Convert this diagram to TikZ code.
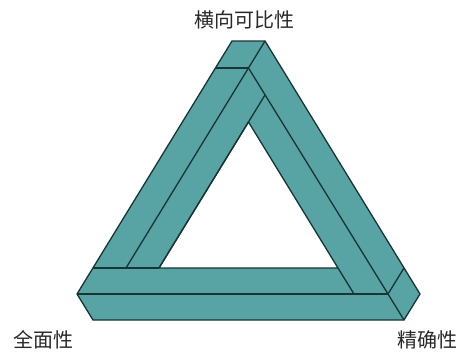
\documentclass[tikz,border=0pt]{standalone}
\usepackage{fontspec}
\newfontfamily\cjk{Noto Sans CJK SC}
\definecolor{barfill}{RGB}{88,163,163}
\definecolor{barline}{RGB}{24,52,52}
\definecolor{labeltext}{RGB}{40,40,40}
\tikzset{
	bar edge/.style={draw=barline, line width=1.3pt, line join=round},
	corner label/.style={font=\cjk\fontsize{20}{24}\selectfont, text=labeltext, inner sep=0pt},
}
\begin{document}
\begin{tikzpicture}[x=1pt, y=-1pt]
	\useasboundingbox (0,0) rectangle (460,351);

	% outline of the three bars
	\coordinate (A) at (232,41);
	\coordinate (B) at (265,41);
	\coordinate (C) at (420,294);
	\coordinate (D) at (404,320);
	\coordinate (E) at (93,320);
	\coordinate (F) at (77,294);
	% hole in the middle
	\coordinate (i1) at (248.5,122);
	\coordinate (i2) at (338,268);
	\coordinate (i3) at (159,268);
	% face joints
	\coordinate (t1) at (215.5,68);
	\coordinate (t2) at (248.5,68);
	\coordinate (t3) at (265,95);
	\coordinate (l1) at (93,268);
	\coordinate (l2) at (126,268);
	\coordinate (r1) at (354,294);
	\coordinate (r2) at (388,294);
	\coordinate (r3) at (404,268);

	\fill[barfill, even odd rule] (A) -- (B) -- (C) -- (D) -- (E) -- (F) -- cycle
		(i1) -- (i2) -- (i3) -- cycle;

	\path [bar edge] (A) -- (B) -- (C) -- (D) -- (E) -- (F) -- cycle;
	\path [bar edge] (i1) -- (i2) -- (i3) -- cycle;

	\path [bar edge] (t1) edge (t2);
	\path [bar edge] (B) edge (l2);
	\path [bar edge] (t2) edge (r2);
	\path [bar edge] (t3) edge (i3);
	\path [bar edge] (i2) edge (r1);
	\path [bar edge] (l1) edge (i3);
	\path [bar edge] (F) edge (r2);
	\path [bar edge] (r2) edge (r3);
	\path [bar edge] (r2) edge (D);

	\node[corner label] (comparable) at (244,20)  {横向可比性};
	\node[corner label] (complete)   at (43,340)  {全面性};
	\node[corner label] (accurate)   at (427,340) {精确性};
\end{tikzpicture}
\end{document}
